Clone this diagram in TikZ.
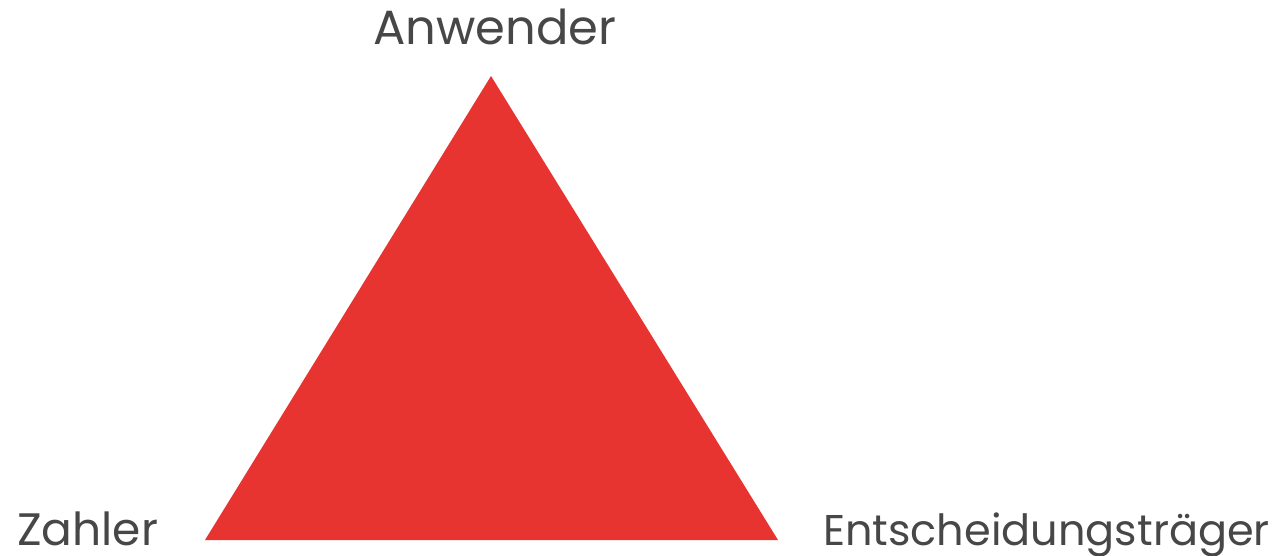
\documentclass[tikz,border=0pt]{standalone}
\usepackage{fontspec}
\setmainfont{Poppins}
\definecolor{trired}{HTML}{E83431}
\definecolor{labelgray}{HTML}{474747}
\begin{document}
\begin{tikzpicture}[x=1pt,y=-1pt,
  corner/.style={inner sep=0pt, text=labelgray},
  toplabel/.style={corner, font=\fontsize{48}{48}\selectfont, anchor=base},
  botlabel/.style={corner, font=\fontsize{43}{43}\selectfont, anchor=base west}]
  \useasboundingbox (0,0) rectangle (1285,555);
  % triangle corners
  \coordinate (apex) at (491,76);
  \coordinate (bl) at (205,540);
  \coordinate (br) at (778,540);
  \fill[trired] (apex) -- (bl) -- (br) -- cycle;
  % corner labels
  \node[toplabel] (anwender) at (495,44) {Anwender};
  \node[botlabel, font=\fontsize{45.5}{45.5}\selectfont] (zahler) at (17,545) {Zahler};
  \node[botlabel] (entsch) at (823,545) {Entscheidungsträger};
\end{tikzpicture}
\end{document}
